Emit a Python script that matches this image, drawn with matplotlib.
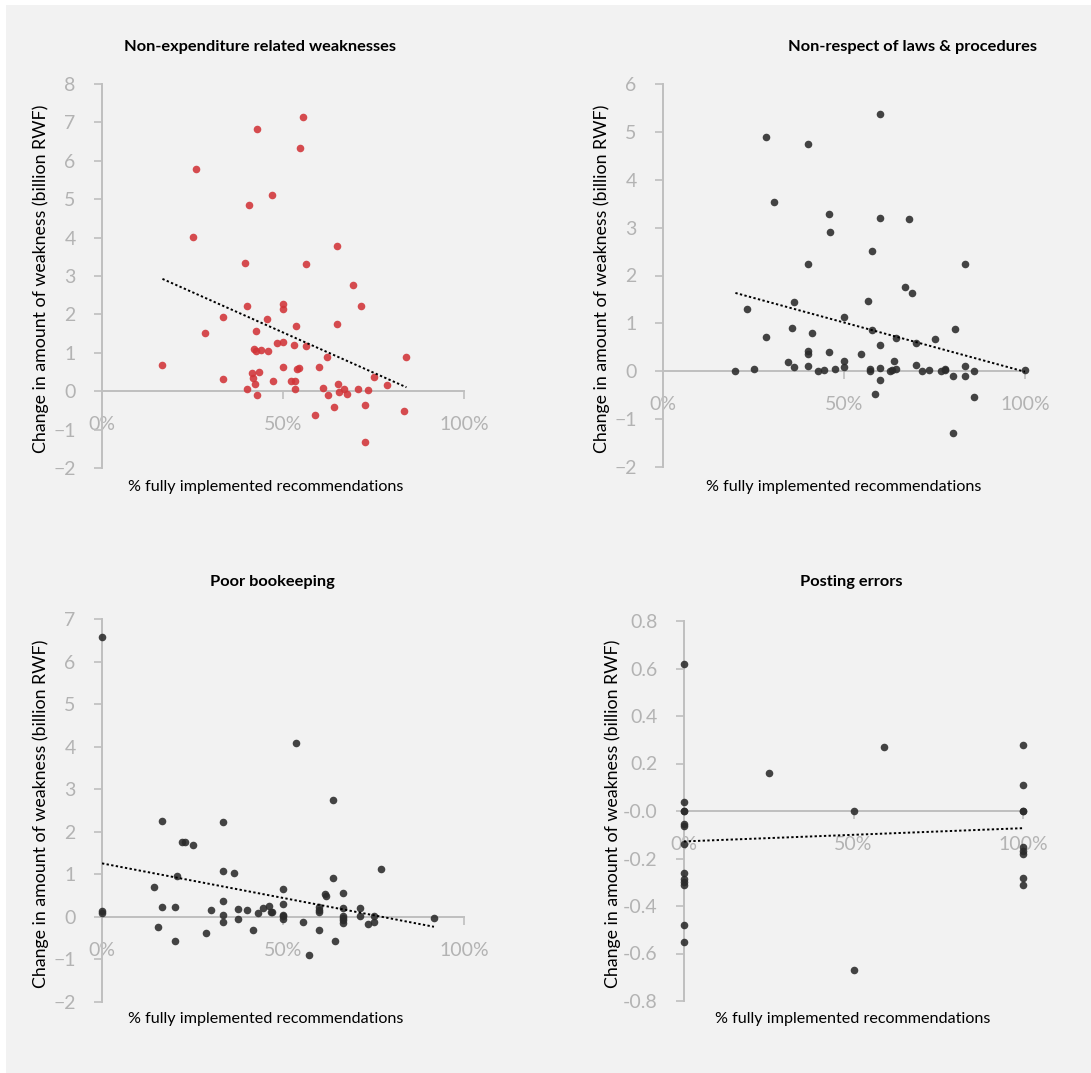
import numpy as np
import matplotlib
matplotlib.use("Agg")
import matplotlib.pyplot as plt
from matplotlib.patches import Rectangle
from matplotlib.ticker import PercentFormatter

plt.rcParams['font.family'] = ['Lato', 'DejaVu Sans']

# Panel 1: Non-expenditure related weaknesses (x in %, y in billion RWF)
p1_x = [42.9, 54.6, 26, 46.9, 40.5, 25, 39.5, 55.6, 65, 56.3,
        40, 33.3, 50, 50, 45.5, 53.6, 28.5, 42.6, 48.4, 50, 53, 42, 42.5, 44, 45.9,
        16.7, 50, 53.8, 54.4, 41.5, 43.3, 41.6, 33.3, 42.2, 47.3, 52.1, 53.2, 40.1, 53.4, 42.9,
        69.2, 71.5, 65, 56.3, 84.1, 62.1, 60, 75, 78.8, 65.3, 61.1, 66.8, 65.4, 70.6, 73.4,
        62.5, 67.8, 72.7, 64, 83.3, 58.8, 72.7]
p1_y = [6.84, 6.34, 5.79, 5.12, 4.85, 4.01, 3.33, 7.15, 3.78, 3.30,
        2.21, 1.93, 2.27, 2.14, 1.89, 1.71, 1.52, 1.56, 1.25, 1.28, 1.21, 1.10, 1.05, 1.06, 1.04,
        0.69, 0.62, 0.58, 0.60, 0.48, 0.51, 0.35, 0.32, 0.20, 0.26, 0.27, 0.27, 0.06, 0.06, -0.10,
        2.76, 2.22, 1.74, 1.18, 0.88, 0.88, 0.64, 0.37, 0.15, 0.20, 0.09, 0.07, -0.03, 0.07, 0.02,
        -0.09, -0.08, -0.36, -0.42, -0.51, -0.63, -1.31]

# Panel 2: Non-respect of laws & procedures
p2_x = [28.5, 40, 30.7, 45.9, 46.1, 40, 60, 60, 68, 57.8, 83.3,
        36.2, 23.1, 35.6, 41.1, 28.5, 40, 40, 45.9, 34.4, 36.2, 40, 20, 25, 42.9, 44.5, 47.4,
        66.8, 68.9, 56.5, 50, 80.6, 57.6, 64.4, 75.1, 70, 60, 54.6, 50, 63.9, 50, 57.1, 57.1,
        60, 62.6, 63.2, 64.5, 70, 71.5, 73.4, 76.9, 77.8, 78, 83.3, 85.8, 80, 83.3, 60, 58.6,
        85.8, 80, 100]
p2_y = [4.90, 4.74, 3.53, 3.28, 2.90, 2.24, 5.38, 3.21, 3.19, 2.52, 2.25,
        1.45, 1.31, 0.91, 0.80, 0.72, 0.43, 0.37, 0.40, 0.19, 0.09, 0.12, 0.01, 0.04, 0.0, 0.02, 0.05,
        1.75, 1.63, 1.47, 1.13, 0.89, 0.87, 0.69, 0.67, 0.60, 0.54, 0.37, 0.22, 0.22, 0.08, 0.04, 0.01,
        0.06, 0.01, 0.03, 0.05, 0.14, 0.01, 0.02, 0.01, 0.03, 0.04, 0.12, 0.01, -0.10, -0.09, -0.18, -0.47,
        -0.54, -1.29, 0.03]

# Panel 3: Poor bookeeping
p3_x = [0, 53.6, 63.7, 77, 63.7, 50, 61.6, 61.9, 66.7, 50, 60, 60, 60, 66.7, 71.4, 46.9,
        50, 50, 50, 71.4, 75, 66.7, 66.7, 66.7, 66.7, 55.5, 75, 73.6, 91.7, 60, 64.4, 57.2,
        0, 0, 16.7, 33.3, 22.1, 23, 25.1, 33.3, 36.4, 20.8, 14.3, 33.3, 16.7, 20.1, 30, 37.6,
        40.1, 44.5, 46, 43, 46.7, 33.3, 37.6, 33.3, 41.6, 15.4, 28.6, 20.1]
p3_y = [6.57, 4.09, 2.74, 1.12, 0.92, 0.65, 0.54, 0.49, 0.56, 0.31, 0.23, 0.16, 0.11, 0.20, 0.20, 0.12,
        0.05, 0.01, -0.05, 0.02, 0.03, 0.03, -0.02, -0.08, -0.15, -0.11, -0.12, -0.17, -0.03, -0.30, -0.56, -0.89,
        0.13, 0.10, 2.26, 2.24, 1.77, 1.77, 1.68, 1.09, 1.04, 0.95, 0.71, 0.38, 0.23, 0.23, 0.16, 0.19,
        0.16, 0.21, 0.26, 0.09, 0.12, 0.04, -0.04, -0.12, -0.31, -0.24, -0.37, -0.56]

# Panel 4: Posting errors
p4_x = [0, 0, 0, 0, 0, 0, 0, 0, 0, 0, 0, 0, 0,
        25, 59, 50, 50,
        100, 100, 100, 100, 100, 100, 100, 100, 100]
p4_y = [0.62, 0.04, 0.0, 0.0, -0.055, -0.065, -0.14, -0.26, -0.285, -0.30, -0.31, -0.48, -0.55,
        0.16, 0.27, 0.0, -0.67,
        0.28, 0.11, 0.0, 0.0, -0.15, -0.17, -0.18, -0.28, -0.31]

titles = ['Non-expenditure related weaknesses', 'Non-respect of laws & procedures',
          'Poor bookeeping', 'Posting errors']
ylims = [(-2, 8), (-2, 6), (-2, 7), (-0.8, 0.8)]
ysteps = [1, 1, 1, 0.2]

W, H = 1091, 1073
fig = plt.figure(figsize=(W / 100, H / 100), dpi=100, facecolor='white')
fig.patches.append(Rectangle((6 / W, 0), 1, 1 - 5 / H, transform=fig.transFigure,
                             facecolor='#f2f2f2', edgecolor='none', zorder=-10))

# axes boxes in pixels: left, top, right, bottom
boxes = [(102, 84, 464, 468), (663, 84, 1025, 467), (102, 619, 464, 1002), (684, 621, 1023, 1001)]
title_pos = [(260, 47), (913, 47), (272, 582), (851, 582)]
ylab_x = [41, 602, 41, 613]
xlab_pos = [(266, 487), (844, 487), (266, 1019), (853, 1019)]

gray = '#bfbfbf'
tick_gray = '#b3b3b3'
data = [(p1_x, p1_y), (p2_x, p2_y), (p3_x, p3_y), (p4_x, p4_y)]

for i, ((xs, ys), box) in enumerate(zip(data, boxes)):
    l, t, r, b = box
    ax = fig.add_axes([l / W, 1 - b / H, (r - l) / W, (b - t) / H])
    ax.set_facecolor('none')
    xs = np.array(xs) / 100.0
    ys = np.array(ys)
    color = '#d13438' if i == 0 else '#2b2b2b'
    ax.scatter(xs, ys, s=30, color=color, alpha=0.88, linewidths=0, zorder=3, clip_on=False)

    # linear trendline over the data range
    k, c = np.polyfit(xs, ys, 1)
    xx = np.array([xs.min(), xs.max()])
    ax.plot(xx, k * xx + c, color='black', linestyle=(0, (1.2, 1.2)), linewidth=1.4, zorder=4)

    ax.set_xlim(0, 1)
    ax.set_ylim(*ylims[i])
    ax.set_xticks([0, 0.5, 1])
    ax.xaxis.set_major_formatter(PercentFormatter(1.0, decimals=0))
    ax.set_yticks(np.arange(ylims[i][0], ylims[i][1] + ysteps[i] / 2, ysteps[i]))
    if i == 3:
        ax.set_yticklabels([f'{v:.1f}' for v in ax.get_yticks()])

    for s in ['top', 'right']:
        ax.spines[s].set_visible(False)
    ax.spines['bottom'].set_position(('data', 0))
    ax.spines['bottom'].set_color(gray)
    ax.spines['left'].set_color(gray)
    ax.spines['bottom'].set_linewidth(1.4)
    ax.spines['left'].set_linewidth(1.4)
    ax.tick_params(axis='both', direction='out', length=6, width=1.2, color=gray,
                   labelcolor=tick_gray, labelsize=14)
    ax.tick_params(axis='x', pad=12)
    ax.tick_params(axis='y', pad=13)

    fig.text(title_pos[i][0] / W, 1 - title_pos[i][1] / H, titles[i], ha='center', va='center',
             fontsize=11.8, fontweight='bold', color='black')
    fig.text(ylab_x[i] / W, 1 - ((t + b) / 2 + 3) / H, 'Change in amount of weakness (billion RWF)',
             rotation=90, ha='center', va='center', fontsize=12.8, color='black')
    fig.text(xlab_pos[i][0] / W, 1 - xlab_pos[i][1] / H, '% fully implemented recommendations',
             ha='center', va='center', fontsize=11.6, color='black')

fig.savefig('out.png', dpi=100, facecolor=fig.get_facecolor())
